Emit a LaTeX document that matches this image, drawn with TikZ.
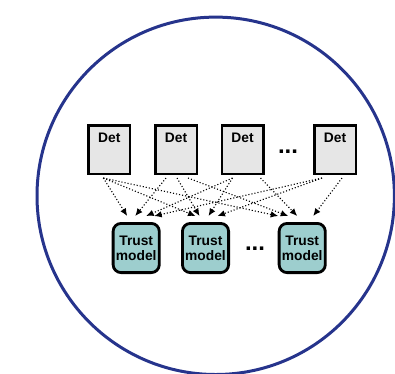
\documentclass[tikz,border=0pt]{standalone}
\usepackage{fontspec}
\setmainfont{Liberation Sans}
\usetikzlibrary{arrows.meta}
\definecolor{ringblue}{RGB}{38,52,140}
\definecolor{detgray}{RGB}{230,230,230}
\definecolor{trustteal}{RGB}{157,206,206}
\tikzset{
  detbox/.style={draw=black, line width=2.5pt, fill=detgray, minimum width=41.5pt,
    inner xsep=0pt, inner ysep=0pt, text height=17pt, text depth=31.5pt,
    font=\fontsize{13.8}{16}\selectfont\bfseries},
  trustbox/.style={draw=black, line width=2.8pt, fill=trustteal, rounded corners=8pt,
    minimum width=46.2pt, minimum height=49.2pt, inner sep=0pt, align=center,
    font=\fontsize{13.8}{16}\selectfont\bfseries},
  dots/.style={font=\fontsize{24}{24}\selectfont\bfseries, inner sep=0pt, anchor=base},
  link/.style={dotted, line width=1.1pt, -{Latex[length=7.5pt,width=6.5pt]}}
}
\begin{document}
\begin{tikzpicture}[x=1pt,y=-1pt]
\useasboundingbox (0,0) rectangle (395,373);
\clip (0,0) rectangle (395,373);
% enclosing ring
\draw[ringblue, line width=3pt] (215.7,195.8) circle[radius=178.7];

% detectors
\node[detbox] (d1) at (109.3,149.5) {Det};
\node[detbox] (d2) at (176.0,149.5) {Det};
\node[detbox] (d3) at (242.5,149.5) {Det};
\node[detbox] (d4) at (335.0,149.5) {Det};
\node[dots] (dd) at (288,153.3) {...};

% trust models
\node[trustbox] (t1) at (136.2,248) {Trust\\[-1pt]model};
\node[trustbox] (t2) at (205.5,248) {Trust\\[-1pt]model};
\node[trustbox] (t3) at (302.2,248) {Trust\\[-1pt]model};
\node[dots] (td) at (255,250.7) {...};

% every detector feeds every trust model
\draw[link] ([xshift=-6pt,yshift=-3pt]d1.south) -- ([xshift=-9pt,yshift=6pt]t1.north);
\draw[link] ([xshift=-6pt,yshift=-3pt]d1.south) -- ([xshift=-10pt,yshift=6pt]t2.north);
\draw[link] ([xshift=-6pt,yshift=-3pt]d1.south) -- ([xshift=-24pt,yshift=6pt]t3.north);

\draw[link] ([xshift=-10pt,yshift=-3pt]d2.south) -- ([xshift=-1pt,yshift=6pt]t1.north);
\draw[link] ([xshift=1pt,yshift=-3pt]d2.south) -- ([xshift=-6pt,yshift=6pt]t2.north);
\draw[link] ([xshift=12pt,yshift=-3pt]d2.south) -- ([xshift=-14pt,yshift=6pt]t3.north);

\draw[link] ([xshift=-10pt,yshift=-3pt]d3.south) -- ([xshift=10pt,yshift=6pt]t1.north);
\draw[link] ([xshift=-10pt,yshift=-3pt]d3.south) -- ([xshift=3pt,yshift=6pt]t2.north);
\draw[link] ([xshift=18pt,yshift=-3pt]d3.south) -- ([xshift=-5pt,yshift=6pt]t3.north);

\draw[link] ([xshift=-13pt,yshift=-3pt]d4.south) -- ([xshift=18pt,yshift=6pt]t1.north);
\draw[link] ([xshift=-13pt,yshift=-3pt]d4.south) -- ([xshift=12pt,yshift=6pt]t2.north);
\draw[link] ([xshift=7pt,yshift=-3pt]d4.south) -- ([xshift=11pt,yshift=6pt]t3.north);
\end{tikzpicture}
\end{document}
